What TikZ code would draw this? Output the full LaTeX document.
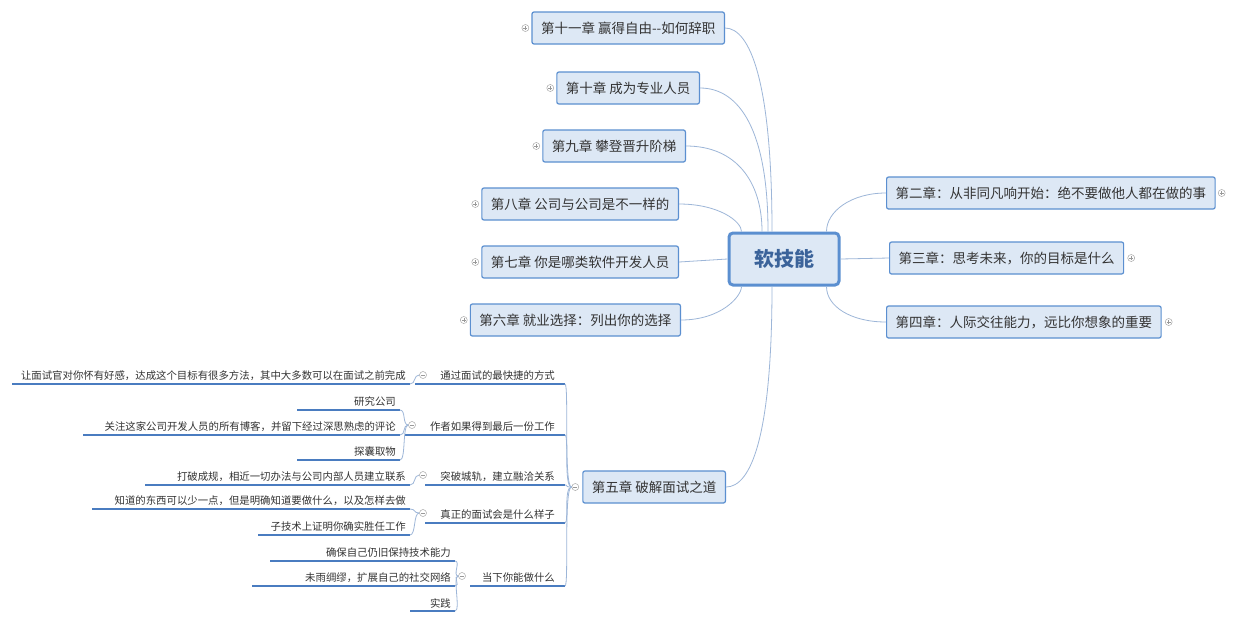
\documentclass[tikz,border=0pt]{standalone}
\usepackage{fontspec}
\setmainfont{Noto Sans CJK SC}
\usetikzlibrary{calc}
\definecolor{boxfill}{HTML}{DDE8F5}
\definecolor{boxline}{HTML}{5B8FD0}
\definecolor{conn}{HTML}{9DB6D8}
\definecolor{uline}{HTML}{4A7CC0}
\definecolor{txt}{HTML}{333333}
\tikzset{
  chap/.style={draw=boxline,fill=boxfill,rounded corners=2pt,line width=1.2pt,minimum height=32pt,inner xsep=9pt,text=txt,font=\fontsize{13.5}{15}\selectfont},
  rootbox/.style={draw=boxline,fill=boxfill,rounded corners=4pt,line width=3pt,minimum width=110pt,minimum height=52pt,text=uline!80!black,font=\fontsize{20}{22}\selectfont\bfseries},
  leaf/.style={anchor=south east,inner xsep=4pt,inner ysep=3pt,text=txt,font=\fontsize{10.4}{12}\selectfont},
  sub/.style={leaf,inner xsep=10pt},
  ul/.style={draw=uline,line width=1.6pt},
  cn/.style={draw=conn,line width=0.8pt},
  exp/.style={circle,draw=gray!70,fill=white,inner sep=0pt,minimum size=7pt,line width=0.5pt}
}
\newcommand{\plusexp}[2]{\node[exp] (#1) at #2 {}; \draw[gray!80,line width=0.5pt] ($(#1)+(-2,0)$)--($(#1)+(2,0)$) ($(#1)+(0,-2)$)--($(#1)+(0,2)$);}
\newcommand{\minusexp}[2]{\node[exp] (#1) at #2 {}; \draw[gray!80,line width=0.5pt] ($(#1)+(-2,0)$)--($(#1)+(2,0)$);}
\begin{document}
\begin{tikzpicture}[x=1pt,y=-1pt]
\useasboundingbox[fill=white] (0,0) rectangle (1240,625);
\node[rootbox] (root) at (784,259) {软技能};
% left chapters
\node[chap,anchor=east] (c11) at (725,28) {第十一章 赢得自由{-}{-}如何辞职};
\node[chap,anchor=east] (c10) at (700,88) {第十章 成为专业人员};
\node[chap,anchor=east] (c9) at (686,146) {第九章 攀登晋升阶梯};
\node[chap,anchor=east] (c8) at (679,204) {第八章 公司与公司是不一样的};
\node[chap,anchor=east] (c7) at (679,262) {第七章 你是哪类软件开发人员};
\node[chap,anchor=east] (c6) at (681,320) {第六章 就业选择：列出你的选择};
\node[chap,anchor=east] (c5) at (726,487) {第五章 破解面试之道};
% right chapters
\node[chap,anchor=west] (c2) at (886,193) {第二章：从非同凡响开始：绝不要做他人都在做的事};
\node[chap,anchor=west] (c3) at (889,258) {第三章：思考未来，你的目标是什么};
\node[chap,anchor=west] (c4) at (886,322) {第四章：人际交往能力，远比你想象的重要};
% expanders
\plusexp{e11}{($(c11.west)+(-6,0)$)}
\plusexp{e10}{($(c10.west)+(-6,0)$)}
\plusexp{e9}{($(c9.west)+(-6,0)$)}
\plusexp{e8}{($(c8.west)+(-6,0)$)}
\plusexp{e7}{($(c7.west)+(-6,0)$)}
\plusexp{e6}{($(c6.west)+(-6,0)$)}
\minusexp{e5}{($(c5.west)+(-7,0)$)}
\plusexp{e2}{($(c2.east)+(6,0)$)}
\plusexp{e3}{($(c3.east)+(7,0)$)}
\plusexp{e4}{($(c4.east)+(7,0)$)}
% root connectors
\coordinate (r11) at ($(root.north)+(-12,0)$);
\coordinate (r10) at ($(root.north)+(-16,0)$);
\coordinate (r9) at ($(root.north)+(-22,0)$);
\coordinate (r8) at ($(root.north west)+(14,0)$);
\coordinate (r6) at ($(root.south west)+(14,0)$);
\coordinate (r5) at ($(root.south)+(-12,0)$);
\coordinate (r2) at ($(root.north east)+(-14,0)$);
\coordinate (r4) at ($(root.south east)+(-14,0)$);
\draw[cn] (r11) .. controls ($(r11)+(0,-150)$) and ($(c11.east)+(25,0)$) .. (c11.east);
\draw[cn] (r10) .. controls ($(r10)+(0,-100)$) and ($(c10.east)+(40,0)$) .. (c10.east);
\draw[cn] (r9) .. controls ($(r9)+(0,-50)$) and ($(c9.east)+(50,0)$) .. (c9.east);
\draw[cn] (r8) .. controls ($(r8)+(0,-10)$) and ($(c8.east)+(40,0)$) .. (c8.east);
\draw[cn] (root.west) -- (c7.east);
\draw[cn] (r6) .. controls ($(r6)+(0,10)$) and ($(c6.east)+(40,0)$) .. (c6.east);
\draw[cn] (r5) .. controls ($(r5)+(0,150)$) and ($(c5.east)+(25,0)$) .. (c5.east);
\draw[cn] (r2) .. controls ($(r2)+(0,-20)$) and ($(c2.west)+(-35,0)$) .. (c2.west);
\draw[cn] (root.east) -- (c3.west);
\draw[cn] (r4) .. controls ($(r4)+(0,20)$) and ($(c4.west)+(-35,0)$) .. (c4.west);
% chapter 5 subtopics
\node[sub] (s1) at (565,384) {通过面试的最快捷的方式};
\node[sub] (s2) at (565,435) {作者如果得到最后一份工作};
\node[sub] (s3) at (565,485) {突破城轨，建立融洽关系};
\node[sub] (s4) at (565,523) {真正的面试会是什么样子};
\node[sub] (s5) at (565,586) {当下你能做什么};
\foreach \s/\l in {s1/-150,s2/-160,s3/-140,s4/-140,s5/-95}{
  \draw[ul] (\s.south east) -- ++(\l,0);
  \draw[cn] (e5.west) .. controls ($(e5.west)+(-8,0)$) and ($(\s.south east)+(4,0)$) .. (\s.south east);
}
\minusexp{m1}{(423,375)}
\minusexp{m2}{(412,425)}
\minusexp{m3}{(423,475)}
\minusexp{m4}{(423,513)}
\minusexp{m5}{(462,576)}
% leaves
\node[leaf] (l1) at (410,384) {让面试官对你怀有好感，达成这个目标有很多方法，其中大多数可以在面试之前完成};
\node[leaf] (l2) at (400,410) {研究公司};
\node[leaf] (l3) at (400,435) {关注这家公司开发人员的所有博客，并留下经过深思熟虑的评论};
\node[leaf] (l4) at (400,460) {探囊取物};
\node[leaf] (l5) at (410,485) {打破成规，相近一切办法与公司内部人员建立联系};
\node[leaf] (l6) at (410,509) {知道的东西可以少一点，但是明确知道要做什么，以及怎样去做};
\node[leaf] (l7) at (410,535) {子技术上证明你确实胜任工作};
\node[leaf] (l8) at (455,561) {确保自己仍旧保持技术能力};
\node[leaf] (l9) at (455,586) {未雨绸缪，扩展自己的社交网络};
\node[leaf] (l10) at (455,611) {实践};
\draw[ul] (12,384) -- (l1.south east);
\draw[ul] (297,410) -- (l2.south east);
\draw[ul] (83,435) -- (l3.south east);
\draw[ul] (297,460) -- (l4.south east);
\draw[ul] (145,485) -- (l5.south east);
\draw[ul] (92,509) -- (l6.south east);
\draw[ul] (258,535) -- (l7.south east);
\draw[ul] (270,561) -- (l8.south east);
\draw[ul] (252,586) -- (l9.south east);
\draw[ul] (410,611) -- (l10.south east);
\foreach \p/\c in {m1/l1,m2/l2,m2/l3,m2/l4,m3/l5,m4/l6,m4/l7,m5/l8,m5/l9,m5/l10}{
  \draw[cn] (\p.west) .. controls ($(\p.west)+(-6,0)$) and ($(\c.south east)+(6,0)$) .. (\c.south east);
}
\end{tikzpicture}
\end{document}
